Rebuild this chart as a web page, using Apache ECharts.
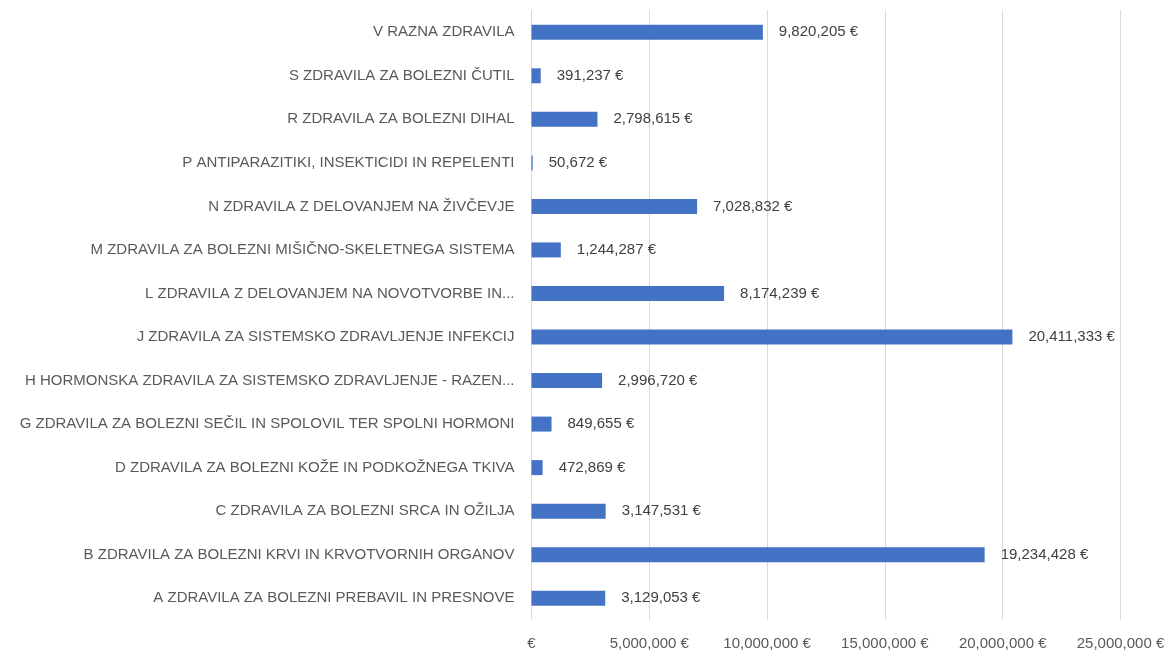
<!DOCTYPE html>
<html>
<head>
<meta charset="utf-8">
<script src="https://cdn.jsdelivr.net/npm/echarts@6/dist/echarts.min.js"></script>
<style>
  html, body { margin: 0; padding: 0; background: #fff; }
  #chart { width: 1171px; height: 651px; }
</style>
</head>
<body>
<div id="chart"></div>
<script>
// kategorije od spodaj navzgor (A spodaj, V zgoraj)
var categories = [
    'A ZDRAVILA ZA BOLEZNI PREBAVIL IN PRESNOVE',
    'B ZDRAVILA ZA BOLEZNI KRVI IN KRVOTVORNIH ORGANOV',
    'C ZDRAVILA ZA BOLEZNI SRCA IN OŽILJA',
    'D ZDRAVILA ZA BOLEZNI KOŽE IN PODKOŽNEGA TKIVA',
    'G ZDRAVILA ZA BOLEZNI SEČIL IN SPOLOVIL TER SPOLNI HORMONI',
    'H HORMONSKA ZDRAVILA ZA SISTEMSKO ZDRAVLJENJE - RAZEN...',
    'J ZDRAVILA ZA SISTEMSKO ZDRAVLJENJE INFEKCIJ',
    'L ZDRAVILA Z DELOVANJEM NA NOVOTVORBE IN...',
    'M ZDRAVILA ZA BOLEZNI MIŠIČNO-SKELETNEGA SISTEMA',
    'N ZDRAVILA Z DELOVANJEM NA ŽIVČEVJE',
    'P ANTIPARAZITIKI, INSEKTICIDI IN REPELENTI',
    'R ZDRAVILA ZA BOLEZNI DIHAL',
    'S ZDRAVILA ZA BOLEZNI ČUTIL',
    'V RAZNA ZDRAVILA'
];
var values = [
    3129053, 19234428, 3147531, 472869, 849655, 2996720, 20411333,
    8174239, 1244287, 7028832, 50672, 2798615, 391237, 9820205
];
var axisMin = 0;
var axisMax = 25000000;
var axisStep = 5000000;

function fmtEur(v) {
    if (v === 0) return '€';
    return String(v).replace(/\B(?=(\d{3})+(?!\d))/g, ',') + ' €';
}

var font = 'Liberation Sans';
var chart = echarts.init(document.getElementById('chart'), null, { renderer: 'canvas' });

chart.setOption({
    animation: false,
    grid: { left: 531.5, right: 50.5, top: 10.5, bottom: 30.5, containLabel: false },
    xAxis: {
        type: 'value',
        min: axisMin,
        max: axisMax,
        interval: axisStep,
        axisLine: { show: false },
        axisTick: { show: false },
        splitLine: { lineStyle: { color: '#d9d9d9', width: 1 } },
        axisLabel: {
            formatter: fmtEur,
            color: '#595959',
            fontFamily: font,
            fontSize: 15,
            margin: 16
        }
    },
    yAxis: {
        type: 'category',
        data: categories,
        axisLine: { show: false },
        axisTick: { show: false },
        axisLabel: {
            color: '#595959',
            fontFamily: font,
            fontSize: 15,
            margin: 17
        }
    },
    series: [{
        type: 'bar',
        data: values,
        barWidth: 15,
        itemStyle: { color: '#4472c4' },
        label: {
            show: true,
            position: 'right',
            distance: 16,
            formatter: function (p) { return fmtEur(p.value); },
            color: '#404040',
            fontFamily: font,
            fontSize: 15
        }
    }]
});
</script>
</body>
</html>
